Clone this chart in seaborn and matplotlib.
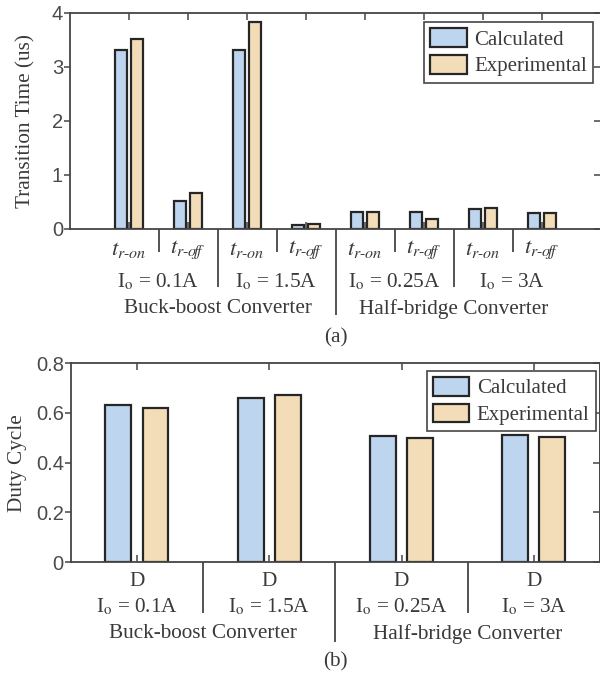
import numpy as np
import pandas as pd
import matplotlib
matplotlib.use("Agg")
import matplotlib.pyplot as plt
import matplotlib.transforms as mtransforms
import seaborn as sns

# ---- data -------------------------------------------------------------
converters = ["Buck-boost Converter", "Half-bridge Converter"]
load_currents = ["0.1A", "1.5A", "0.25A", "3A"]
transitions = ["on", "off"]
series = ["Calculated", "Experimental"]

# transition times (us), ordered t_on/t_off for each load current
trans_calc = [3.30, 0.51, 3.30, 0.07, 0.31, 0.30, 0.36, 0.285]
trans_exp = [3.51, 0.67, 3.83, 0.086, 0.31, 0.18, 0.38, 0.285]

# duty cycle for each load current
duty_calc = [0.631, 0.661, 0.507, 0.512]
duty_exp = [0.618, 0.674, 0.501, 0.504]

# ---- style ------------------------------------------------------------
sns.set_theme(style="white")
plt.rcParams["font.family"] = ["Liberation Serif", "DejaVu Serif"]
plt.rcParams["mathtext.fontset"] = "stix"

BLUE = "#BDD5EE"
TAN = "#F3DDB8"
EDGE = "#262626"
AXC = "#454545"
TXT = "#3a3a3a"
SERIF = 15.3
NUMFONT = dict(family="Liberation Sans", size=14.5, color="#4a4a4a")

fig = plt.figure(figsize=(6.0, 6.75), dpi=100)
ax1 = fig.add_axes([0.1167, 0.6612, 0.885, 0.32])
ax2 = fig.add_axes([0.118, 0.1674, 0.882, 0.2944])

# ---- long-form tables -------------------------------------------------
slots = [f"{c}|{t}" for c in load_currents for t in transitions]
df_t = pd.DataFrame({
    "slot": slots * 2,
    "value": trans_calc + trans_exp,
    "series": [series[0]] * len(slots) + [series[1]] * len(slots),
})
df_d = pd.DataFrame({
    "slot": load_currents * 2,
    "value": duty_calc + duty_exp,
    "series": [series[0]] * 4 + [series[1]] * 4,
})

bar_kw = dict(x="slot", y="value", hue="series", hue_order=series,
              palette=[BLUE, TAN], width=0.56, gap=0.3,
              edgecolor=EDGE, linewidth=1.6, saturation=1, errorbar=None)
sns.barplot(data=df_t, order=slots, ax=ax1, **bar_kw)
sns.barplot(data=df_d, order=load_currents, ax=ax2, **bar_kw)


def style_axes(ax, ylim, yticks, ylabels, xlim):
    ax.set_xlim(*xlim)
    ax.set_ylim(*ylim)
    ax.set_yticks(yticks)
    ax.set_yticklabels(ylabels, **NUMFONT)
    ax.set_xticklabels([])
    ax.set_xlabel("")
    for sp in ax.spines.values():
        sp.set_visible(True)
        sp.set_color(AXC)
        sp.set_linewidth(1.3)
    ax.tick_params(axis="x", direction="in", top=True, bottom=True,
                   length=5, width=1.1, color=AXC)
    ax.tick_params(axis="y", direction="out", left=True, length=4,
                   width=1.1, color=AXC, pad=1)
    right = ax.secondary_yaxis("right")
    right.set_yticks(yticks)
    right.tick_params(axis="y", direction="in", length=5, width=1.1,
                      color=AXC, labelright=False)
    right.spines["right"].set_color(AXC)
    right.spines["right"].set_linewidth(1.3)
    sns.move_legend(ax, "upper right", title=None, frameon=True,
                    fancybox=False, framealpha=1, edgecolor=AXC,
                    prop={"family": "Liberation Serif", "size": 15},
                    handlelength=1.75, handleheight=1.0, labelspacing=0.25,
                    handletextpad=0.35, borderpad=0.3, borderaxespad=0)
    leg = ax.get_legend()
    leg.get_frame().set_linewidth(1.2)
    for t in leg.get_texts():
        t.set_color(TXT)


style_axes(ax1, (0, 4), [0, 1, 2, 3, 4], ["0", "1", "2", "3", "4"], (-1, 8))
style_axes(ax2, (0, 0.8), [0, 0.2, 0.4, 0.6, 0.8],
           ["0", "0.2", "0.4", "0.6", "0.8"], (-0.5, 3.5))
ax1.get_legend().set_bbox_to_anchor((0.985, 0.957))
ax2.get_legend().set_bbox_to_anchor((0.992, 0.963))

ax1.set_ylabel("Transition Time (us)", fontsize=SERIF, color=TXT)
ax2.set_ylabel("Duty Cycle", fontsize=SERIF, color=TXT)
ax1.yaxis.set_label_coords(-0.065, 0.5)
ax2.yaxis.set_label_coords(-0.083, 0.5)


def sep(ax, x, depth):
    tr = mtransforms.blended_transform_factory(ax.transData, ax.transAxes)
    ax.plot([x, x], [0, depth], transform=tr, clip_on=False,
            color=AXC, lw=1.3, solid_capstyle="butt")


def label(ax, x, y, s, size=SERIF):
    tr = mtransforms.blended_transform_factory(ax.transData, ax.transAxes)
    ax.text(x, y, s, transform=tr, ha="center", va="center",
            fontsize=size, color=TXT, clip_on=False)


def current_text(c):
    return r"I$_\mathrm{o}$ = " + c


# ---- panel (a) category rows -----------------------------------------
sub = {"on": r"$t_{r\text{-}on}$", "off": r"$t_{r\text{-}o\!f\!f}$"}
for i, s in enumerate(slots):
    label(ax1, i, -0.097, sub[s.split("|")[1]], size=16.5)
for k, c in enumerate(load_currents):
    label(ax1, 2 * k + 0.5, -0.245, current_text(c))
for k, name in enumerate(converters):
    label(ax1, 4 * k + 1.5, -0.37, name)
for x in [0.5, 2.5, 4.5, 6.5]:
    sep(ax1, x, -0.106)
for x in [1.5, 5.5]:
    sep(ax1, x, -0.269)
sep(ax1, 3.5, -0.398)
ax1.text(0.5, -0.505, "(a)", transform=ax1.transAxes, ha="center",
         va="center", fontsize=SERIF, color=TXT)

# ---- panel (b) category rows -----------------------------------------
for k, c in enumerate(load_currents):
    label(ax2, k, -0.10, "D")
    label(ax2, k, -0.226, current_text(c))
for k, name in enumerate(converters):
    label(ax2, 2 * k + 0.5, -0.362, name)
for x in [0.5, 2.5]:
    sep(ax2, x, -0.257)
sep(ax2, 1.5, -0.403)
ax2.text(0.5, -0.503, "(b)", transform=ax2.transAxes, ha="center",
         va="center", fontsize=SERIF, color=TXT)

fig.savefig("out.png", dpi=100, facecolor="white")
